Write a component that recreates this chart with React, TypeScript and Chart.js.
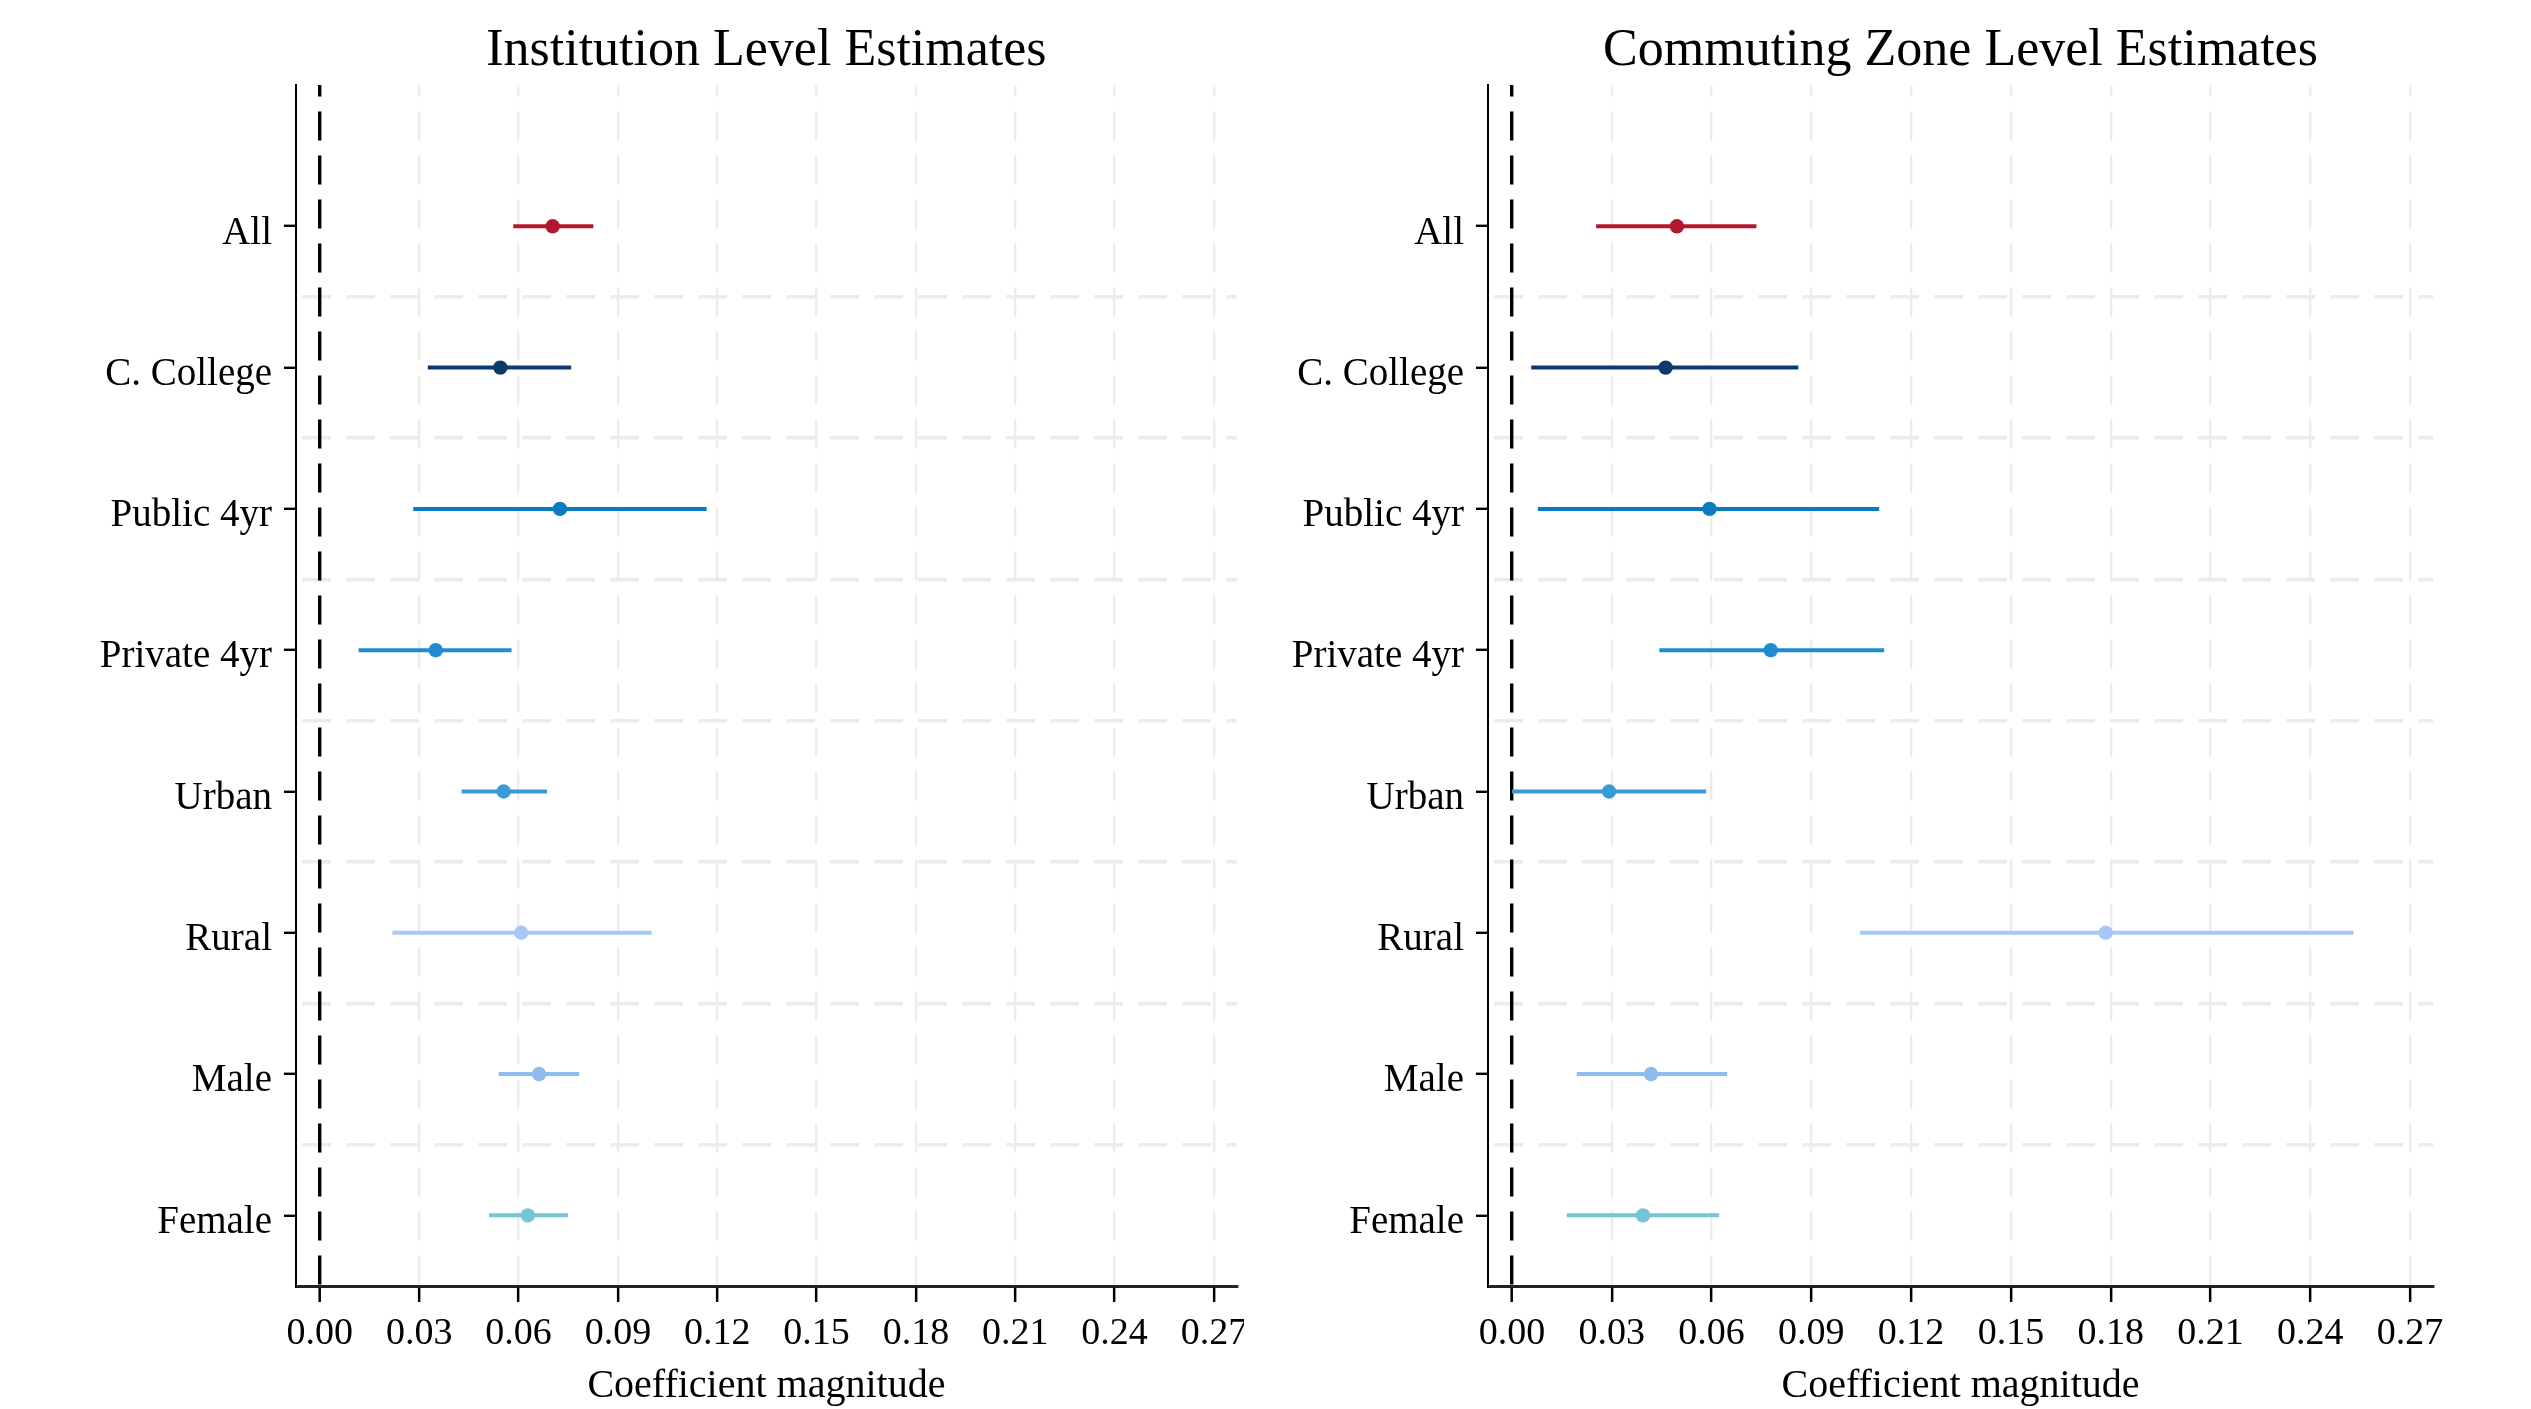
import React, { useEffect, useRef } from 'react';
import { Chart, registerables } from 'chart.js';

Chart.register(...registerables);

// ---------- data ----------
const categories = ['All', 'C. College', 'Public 4yr', 'Private 4yr', 'Urban', 'Rural', 'Male', 'Female'];
const seriesColors = ['#B3182E', '#0C3A6D', '#0A7BC0', '#1E8CCF', '#3A9AD8', '#A7C8F7', '#8DBCEE', '#74C5D6'];

const instEstimate = [0.0703, 0.0545, 0.0725, 0.0350, 0.0555, 0.0608, 0.0662, 0.0628];
const instLower = [0.0584, 0.0326, 0.0282, 0.0117, 0.0428, 0.0219, 0.0540, 0.0511];
const instUpper = [0.0826, 0.0759, 0.1168, 0.0579, 0.0686, 0.1002, 0.0783, 0.0749];

const czEstimate = [0.0496, 0.0462, 0.0594, 0.0778, 0.0292, 0.1785, 0.0418, 0.0394];
const czLower = [0.0253, 0.0058, 0.0078, 0.0443, 0.0000, 0.1046, 0.0195, 0.0165];
const czUpper = [0.0735, 0.0861, 0.1104, 0.1119, 0.0584, 0.2530, 0.0647, 0.0623];

const xTickValues = [0, 0.03, 0.06, 0.09, 0.12, 0.15, 0.18, 0.21, 0.24, 0.27];
const panelTitles = ['Institution Level Estimates', 'Commuting Zone Level Estimates'];
const axisTitle = 'Coefficient magnitude';

// ---------- styling ----------
const FONT = '"Liberation Serif", "Times New Roman", serif';
const HEIGHT = 1409;
const X_MIN = -0.0072;
const X_MAX = 0.2769;

type PanelProps = {
  title: string;
  est: number[];
  lo: number[];
  hi: number[];
  left: number;
  width: number;
  yWidth: number;
  padRight: number;
};

function Panel({ title, est, lo, hi, left, width, yWidth, padRight }: PanelProps) {
  const ref = useRef<HTMLCanvasElement>(null);

  useEffect(() => {
    const canvas = ref.current;
    if (!canvas) return;

    const yTickValues: number[] = [];
    categories.forEach((_, i) => {
      yTickValues.push(i + 1);
      if (i < categories.length - 1) yTickValues.push(i + 1.5);
    });

    const barSets = categories.map((c, i) => ({
      type: 'line' as const,
      label: c,
      data: [
        { x: lo[i], y: i + 1 },
        { x: hi[i], y: i + 1 },
      ],
      showLine: true,
      borderColor: seriesColors[i],
      borderWidth: 4,
      pointRadius: 0,
      order: 2,
    }));

    const pointSet = {
      type: 'scatter' as const,
      label: 'estimate',
      data: categories.map((_, i) => ({ x: est[i], y: i + 1 })),
      pointRadius: 7.2,
      pointBorderWidth: 0,
      pointBackgroundColor: seriesColors,
      backgroundColor: seriesColors,
      borderWidth: 0,
      order: 1,
    };

    const textPlugin = {
      id: 'panelText',
      afterDraw(chart: any) {
        const { ctx, chartArea } = chart;
        const cx = (chartArea.left + chartArea.right) / 2;
        ctx.save();
        ctx.fillStyle = '#000';
        ctx.textAlign = 'center';
        ctx.textBaseline = 'alphabetic';
        ctx.font = `52px ${FONT}`;
        ctx.fillText(title, cx, 65);
        ctx.font = `40px ${FONT}`;
        ctx.fillText(axisTitle, cx, 1397);
        ctx.restore();
      },
    };

    const chart = new Chart(canvas, {
      type: 'scatter',
      data: { datasets: [pointSet as any, ...(barSets as any[])] },
      options: {
        animation: false,
        responsive: false,
        maintainAspectRatio: false,
        devicePixelRatio: 1,
        events: [],
        layout: { padding: { top: 85, right: padRight, bottom: 0, left: 0 } },
        plugins: {
          legend: { display: false },
          tooltip: { enabled: false },
          title: { display: false },
        },
        scales: {
          x: {
            type: 'linear',
            position: 'bottom',
            min: X_MIN,
            max: X_MAX,
            bounds: 'data',
            afterBuildTicks: (s: any) => {
              s.ticks = xTickValues.map((v) => ({ value: v }));
            },
            afterFit: (s: any) => {
              s.height = 123;
              s.paddingLeft = 0;
              s.paddingRight = 0;
            },
            grid: {
              z: -1,
              drawTicks: true,
              tickLength: 16,
              tickWidth: 2.5,
              tickColor: '#000',
              tickBorderDash: [],
              color: (c: any) => (c.tick && c.tick.value === 0 ? '#000' : '#ececec'),
              lineWidth: (c: any) => (c.tick && c.tick.value === 0 ? 3.4 : 2.3),
            },
            border: { display: true, color: '#222', width: 3, dash: [29, 15], dashOffset: 17.6 },
            ticks: {
              autoSkip: false,
              maxRotation: 0,
              minRotation: 0,
              padding: 9,
              color: '#000',
              font: { family: FONT, size: 38 },
              callback: (v: any) => Number(v).toFixed(2),
            },
          },
          y: {
            type: 'linear',
            reverse: true,
            min: 0,
            max: categories.length + 0.5,
            bounds: 'data',
            afterBuildTicks: (s: any) => {
              s.ticks = yTickValues.map((v) => ({ value: v }));
            },
            afterFit: (s: any) => {
              s.width = yWidth;
              s.paddingTop = 0;
              s.paddingBottom = 0;
            },
            grid: {
              z: -2,
              drawTicks: true,
              tickLength: 12,
              tickWidth: 2.4,
              tickBorderDash: [],
              tickColor: (c: any) => (c.tick && Number.isInteger(c.tick.value) ? '#000' : 'rgba(0,0,0,0)'),
              color: (c: any) => (c.tick && Number.isInteger(c.tick.value) ? 'rgba(0,0,0,0)' : '#ebebeb'),
              lineWidth: 3.6,
            },
            border: { display: true, color: '#000', width: 2, dash: [29, 15], dashOffset: 39 },
            ticks: {
              autoSkip: false,
              padding: 12,
              labelOffset: 7,
              color: '#000',
              font: { family: FONT, size: 39 },
              callback: (v: any) => {
                const n = Number(v);
                return Number.isInteger(n) ? categories[n - 1] : '';
              },
            },
          },
        },
      },
      plugins: [textPlugin],
    } as any);

    return () => chart.destroy();
  }, []);

  return (
    <canvas
      ref={ref}
      width={width}
      height={HEIGHT}
      style={{ position: 'absolute', left, top: 0, width, height: HEIGHT, display: 'block' }}
    />
  );
}

export default function App() {
  return (
    <div
      style={{
        position: 'absolute',
        left: 0,
        top: 0,
        width: 2531,
        height: HEIGHT,
        background: '#fff',
        overflow: 'hidden',
      }}
    >
      <Panel
        title={panelTitles[0]}
        est={instEstimate}
        lo={instLower}
        hi={instUpper}
        left={0}
        width={1244}
        yWidth={296}
        padRight={4}
      />
      <Panel
        title={panelTitles[1]}
        est={czEstimate}
        lo={czLower}
        hi={czUpper}
        left={1244}
        width={1287}
        yWidth={244}
        padRight={98}
      />
    </div>
  );
}
